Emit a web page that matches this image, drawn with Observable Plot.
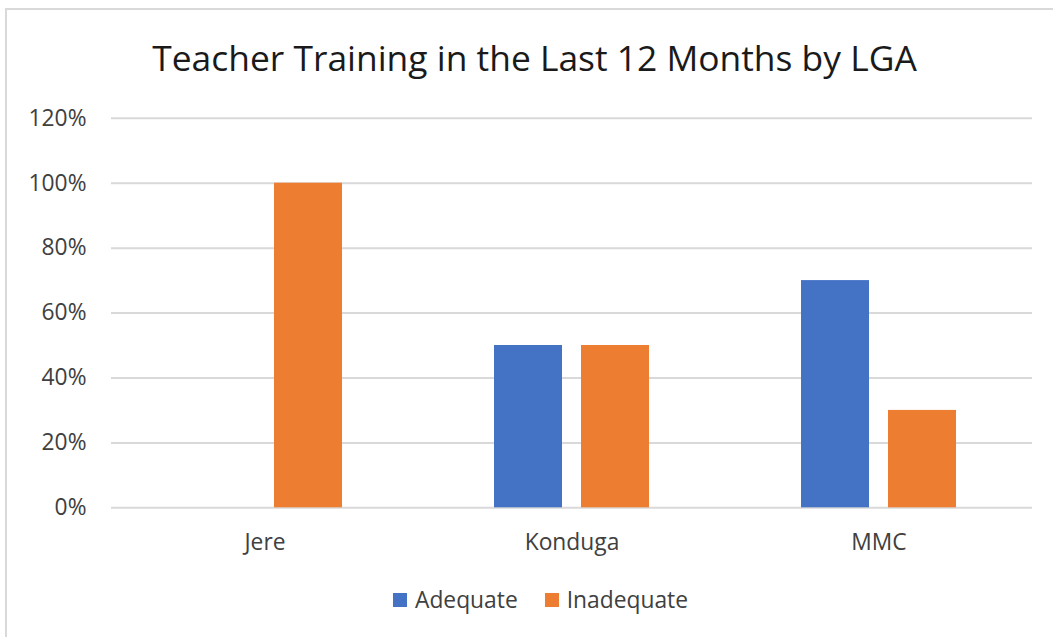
<!DOCTYPE html>
<html>
<head>
<meta charset="utf-8">
<script src="https://cdn.jsdelivr.net/npm/d3@7"></script>
<script src="https://cdn.jsdelivr.net/npm/@observablehq/plot@0.6"></script>
<style>
  html, body { margin: 0; padding: 0; background: #fff; overflow: hidden; }
  body { width: 1053px; height: 637px; position: relative; font-family: "Open Sans", sans-serif; }
  #frame { position: absolute; left: 5px; top: 8px; width: 1100px; height: 700px; border: 2px solid #d9d9d9; box-sizing: border-box; }
  #title { position: relative; height: 100px; box-sizing: border-box; padding-top: 37px; line-height: 40px; font-size: 35.4px; color: #1a1a1a; text-align: center; padding-left: 16px; white-space: nowrap; }
  #chart { position: relative; height: 470px; }
  #legend { position: relative; box-sizing: border-box; padding-top: 18px; padding-left: 393px; font-size: 22.8px; line-height: 24px; color: #404040; display: flex; align-items: flex-start; }
  .sw { display: inline-block; width: 14px; height: 14px; margin-right: 8px; }
  .item { display: flex; align-items: center; height: 24px; margin-right: 27px; }
</style>
</head>
<body>
<div id="frame"></div>
<div id="title"></div>
<div id="chart"></div>
<div id="legend"></div>
<script>
const titleText = "Teacher Training in the Last 12 Months by LGA";
const lgas = ["Jere", "Konduga", "MMC"];
const series = ["Adequate", "Inadequate"];
const adequate = [0, 0.5, 0.7];
const inadequate = [1.0, 0.5, 0.3];
const colors = ["#4472C4", "#ED7D31"];
const yTicks = [0, 0.2, 0.4, 0.6, 0.8, 1.0, 1.2];

const data = [];
lgas.forEach((lga, i) => {
  data.push({lga, series: series[0], value: adequate[i]});
  data.push({lga, series: series[1], value: inadequate[i]});
});

document.getElementById("title").textContent = titleText;

const chart = Plot.plot({
  width: 1053,
  height: 470,
  marginTop: 17.8,
  marginBottom: 62.7,
  marginLeft: 110,
  marginRight: 21,
  style: {fontFamily: "Open Sans", fontSize: "22.8px", color: "#404040", background: "transparent", overflow: "visible"},
  fx: {domain: lgas, padding: 0, label: null, axis: "bottom", tickSize: 0, tickPadding: 26},
  x: {domain: series, paddingInner: 0.2159, paddingOuter: 0.854, axis: null},
  y: {domain: [0, 1.2], ticks: yTicks, tickFormat: d3.format(".0%"), tickSize: 0, tickPadding: 25, label: null},
  color: {domain: series, range: colors},
  marks: [
    Plot.ruleY(yTicks, {stroke: "#d9d9d9", strokeWidth: 2}),
    Plot.barY(data, {fx: "lga", x: "series", y: "value", fill: "series"})
  ]
});
document.getElementById("chart").appendChild(chart);

const legend = document.getElementById("legend");
series.forEach((s, i) => {
  const item = document.createElement("div");
  item.className = "item";
  const sw = document.createElement("span");
  sw.className = "sw";
  sw.style.background = colors[i];
  item.appendChild(sw);
  const t = document.createElement("span");
  t.textContent = s;
  item.appendChild(t);
  legend.appendChild(item);
});
</script>
</body>
</html>
